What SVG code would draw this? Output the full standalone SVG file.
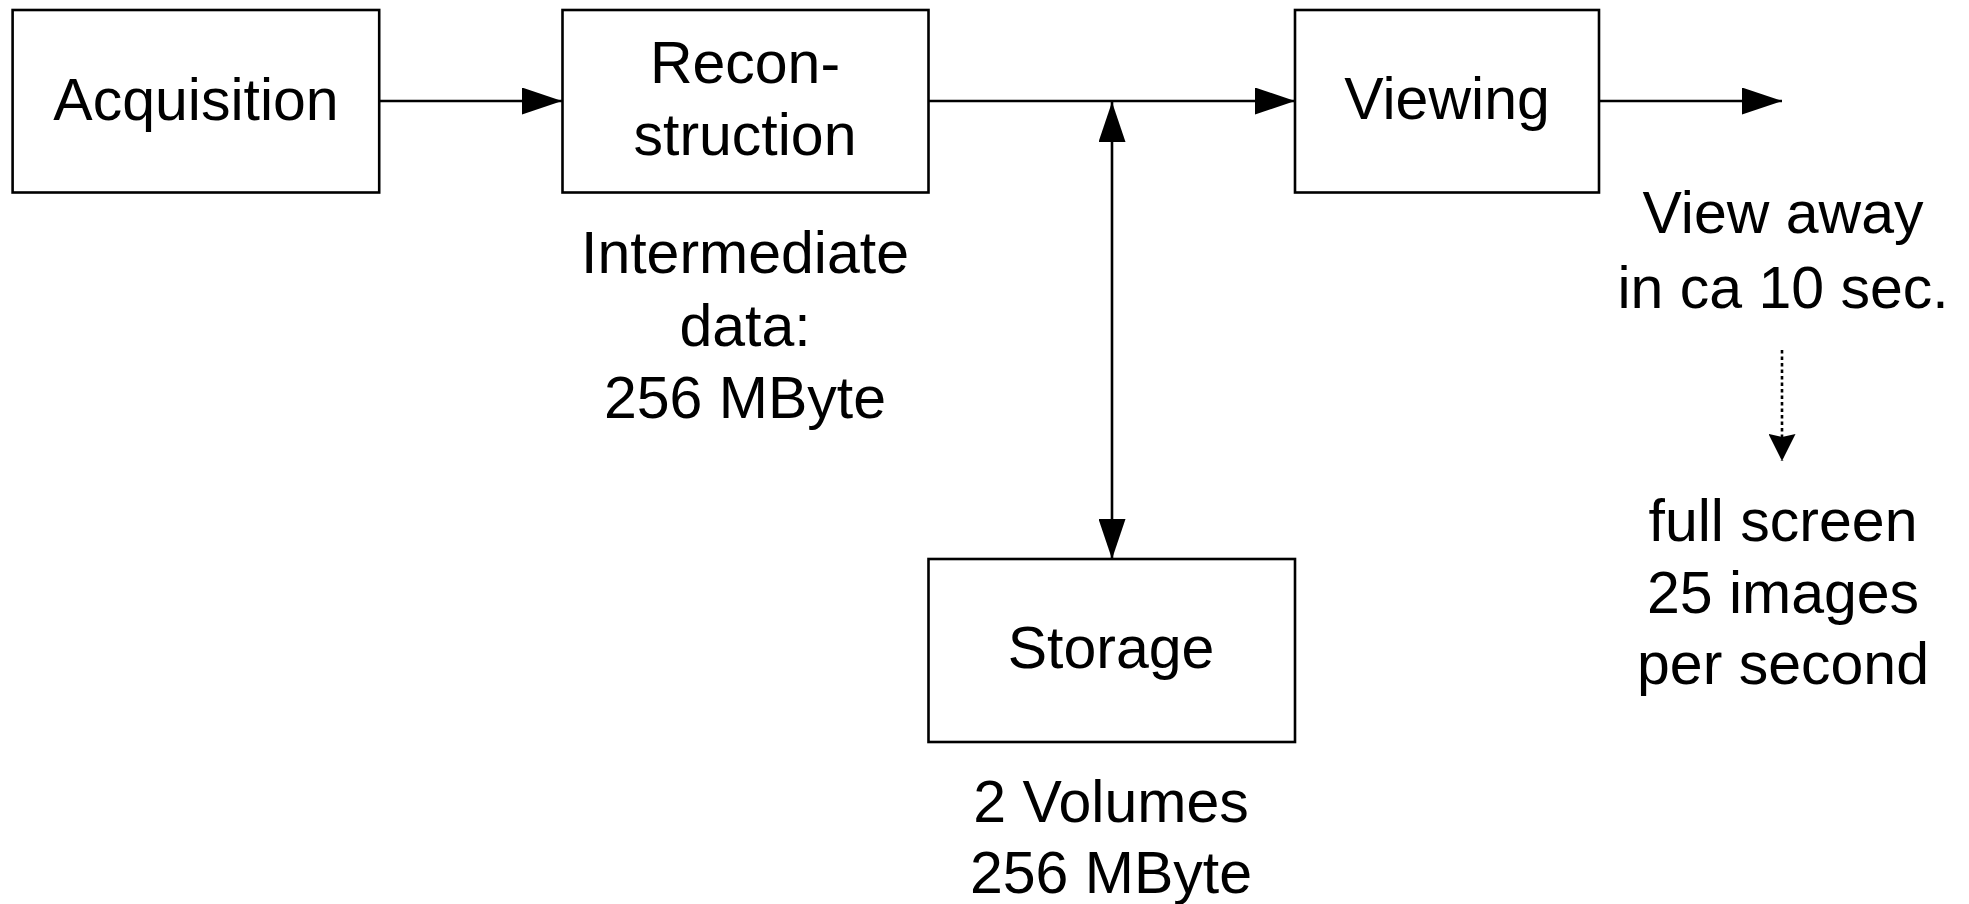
<svg xmlns="http://www.w3.org/2000/svg" width="1969" height="904" viewBox="0 0 1969 904">
<style>
.box{fill:#fff;stroke:#000;stroke-width:2.6}
.t{font-family:"Liberation Sans",Arial,sans-serif;font-size:59px;fill:#000;text-anchor:middle}
.ln{fill:none;stroke:#000;stroke-width:2.6}
.dot{fill:none;stroke:#000;stroke-width:2.6;stroke-dasharray:3.5 3}
</style>
<defs>
<marker id="arr" viewBox="0 0 40 27" refX="40" refY="13.5" markerWidth="40" markerHeight="27" markerUnits="userSpaceOnUse" orient="auto-start-reverse">
<path d="M0,0 L40,13.5 L0,27 z" fill="#000"/>
</marker>
<marker id="arrs" viewBox="0 0 27 27" refX="27" refY="13.5" markerWidth="27" markerHeight="27" markerUnits="userSpaceOnUse" orient="auto">
<path d="M0,0 L27,13.5 L0,27 L3,13.5 z" fill="#000"/>
</marker>
</defs>
<rect width="1969" height="904" fill="#fff"/>
<g id="connectors">
<line class="ln" x1="379" y1="101" x2="562" y2="101" marker-end="url(#arr)"/>
<line class="ln" x1="928" y1="101" x2="1295" y2="101" marker-end="url(#arr)"/>
<line class="ln" x1="1599" y1="101" x2="1782" y2="101" marker-end="url(#arr)"/>
<line class="ln" x1="1112" y1="102" x2="1112" y2="559" marker-start="url(#arr)" marker-end="url(#arr)"/>
<line class="dot" x1="1782" y1="350" x2="1782" y2="461" marker-end="url(#arrs)"/>
</g>
<g id="acquisition">
<rect class="box" x="12.6" y="10" width="366.6" height="182.5"/>
<text class="t" x="196" y="120">Acquisition</text>
</g>
<g id="reconstruction">
<rect class="box" x="562.5" y="10" width="366" height="182.5"/>
<text class="t" x="745" y="83">Recon-</text>
<text class="t" x="745" y="155">struction</text>
</g>
<g id="intermediate">
<text class="t" x="745" y="273">Intermediate</text>
<text class="t" x="745" y="346">data:</text>
<text class="t" x="745" y="418">256 MByte</text>
</g>
<g id="viewing">
<rect class="box" x="1295" y="10" width="304" height="182.5"/>
<text class="t" x="1447" y="119">Viewing</text>
</g>
<g id="storage">
<rect class="box" x="928.5" y="559" width="366.5" height="183"/>
<text class="t" x="1111" y="668">Storage</text>
</g>
<g id="storage-note">
<text class="t" x="1111" y="822">2 Volumes</text>
<text class="t" x="1111" y="893">256 MByte</text>
</g>
<g id="view-away">
<text class="t" x="1783" y="233">View away</text>
<text class="t" x="1783" y="308">in ca 10 sec.</text>
</g>
<g id="full-screen">
<text class="t" x="1783" y="541">full screen</text>
<text class="t" x="1783" y="613">25 images</text>
<text class="t" x="1783" y="684">per second</text>
</g>
</svg>
